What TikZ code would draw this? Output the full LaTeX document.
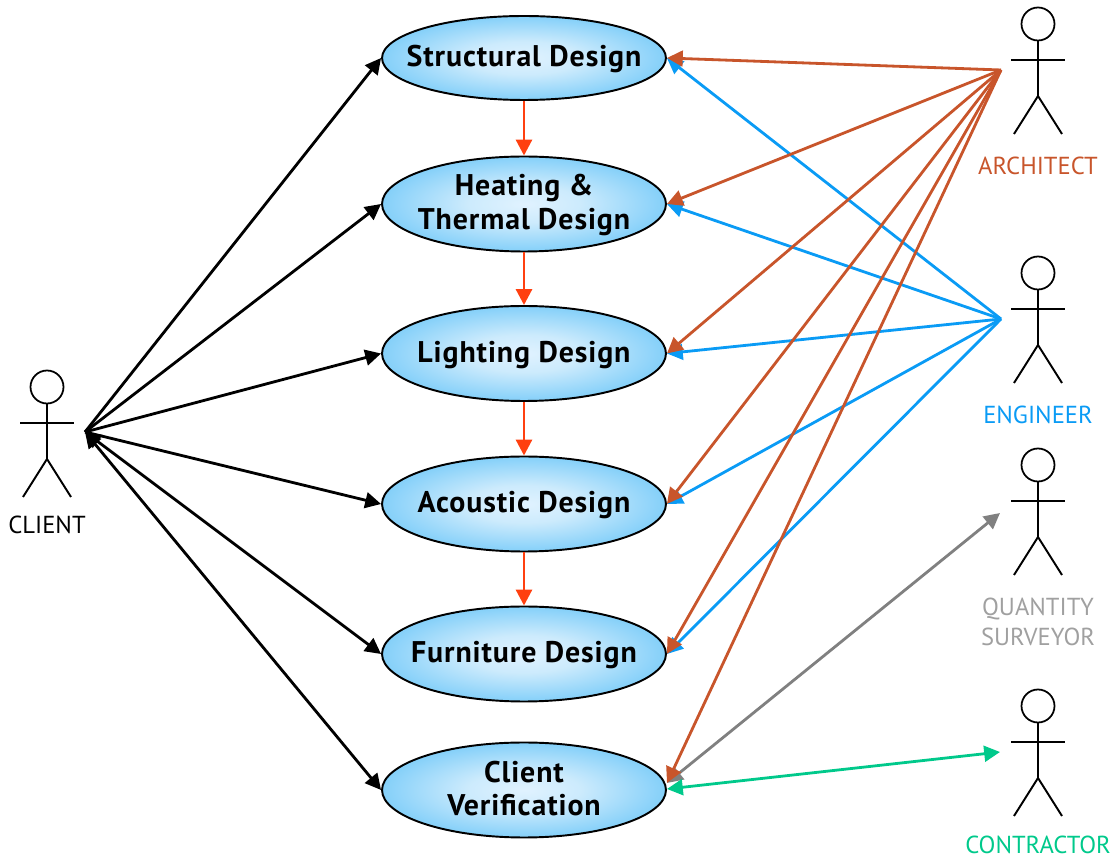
\documentclass[tikz,border=0pt]{standalone}
\usepackage{fontspec}
\setmainfont{PT Sans}
\newfontfamily\casefont[LetterSpace=3]{PT Sans}
\usetikzlibrary{arrows.meta,shapes.geometric}
\definecolor{archcol}{HTML}{C8552B}
\definecolor{engcol}{HTML}{0A9BF5}
\definecolor{flowcol}{HTML}{FF4010}
\definecolor{surveycol}{HTML}{808080}
\definecolor{contractcol}{HTML}{00C98B}
\pgfdeclareradialshading{usecaseshade}{\pgfpoint{0bp}{0bp}}{%
  rgb(0bp)=(0.88,0.95,1);
  rgb(10bp)=(0.80,0.92,0.99);
  rgb(27bp)=(0.48,0.80,0.975);
  rgb(40bp)=(0.40,0.77,0.97);
  rgb(47bp)=(0.44,0.78,0.97);
  rgb(50bp)=(0.62,0.85,0.98);
  rgb(100bp)=(0.62,0.85,0.98)}
\tikzset{
  usecase/.style={ellipse,draw=black,line width=1.1pt,shading=usecaseshade,minimum width=5.68cm,
    minimum height=1.9cm,inner xsep=-2cm,inner ysep=-1cm,align=center,text depth=2.2pt,
    font=\fontsize{17}{19.2}\selectfont\casefont\bfseries},
  actorlabel/.style={font=\fontsize{14}{17}\selectfont,align=center,inner sep=0pt},
  link/.style={line width=1.6pt,{Triangle[length=9pt,width=9pt]}-},
  backlink/.style={line width=1.6pt,{Triangle[length=9pt,width=9pt]}-{Triangle[length=9pt,width=9pt]}},
  flow/.style={line width=1.7pt,flowcol,-{Triangle[length=9pt,width=9pt]}},
  actor/.pic={
    \draw[line width=1pt](0,0)circle(16.5);
    \draw[line width=1.2pt](0,16)--(0,72);
    \draw[line width=0.9pt](-27,36)--(27,36);
    \draw[line width=1.1pt](-24,110)--(0,72)--(24,110);
  }
}
\begin{document}
\begin{tikzpicture}[x=0.02cm,y=-0.02cm]
\useasboundingbox(0,0)rectangle(1113,857);
% use cases
\node[usecase,minimum height=1.68cm](structural)at(524,58){Structural Design};
\node[usecase,text depth=2.4pt](heating)at(524,204){Heating \&\\Thermal Design};
\node[usecase](lighting)at(524,353.5){Lighting Design};
\node[usecase](acoustic)at(524,504){Acoustic Design};
\node[usecase](furniture)at(524,654){Furniture Design};
\node[usecase,text depth=2pt](verification)at(524,790){Client\\Verification};
% actors
\pic at(47,387){actor};
\pic at(1038,24){actor};
\pic at(1038,273){actor};
\pic at(1038,465){actor};
\pic at(1038,706){actor};
\node[actorlabel](clientlabel)at(47,525){CLIENT};
\node[actorlabel,text=archcol](architectlabel)at(1038,166){ARCHITECT};
\node[actorlabel,text=engcol](engineerlabel)at(1038,415){ENGINEER};
\node[actorlabel,text=surveycol!75](surveyorlabel)at(1038,621.5){QUANTITY\\SURVEYOR};
\node[actorlabel,text=contractcol](contractorlabel)at(1038,845){CONTRACTOR};
\coordinate(client)at(85,432);
\coordinate(architect)at(1001,70);
\coordinate(engineer)at(1001,319);
\coordinate(surveyor)at(1000,513);
\coordinate(contractor)at(1000,752);
\coordinate(verifyin)at(667,783);
\coordinate(verifyout)at(667,789);
% client
\foreach \usecase in {structural,heating,lighting,acoustic}
  \draw[link,black](\usecase.west)--(client);
\draw[backlink,black](furniture.west)--(client);
\draw[backlink,black](verification.west)--(client);
% surveyor under the architect line
\draw[backlink,surveycol](verifyin)--(surveyor);
% architect and engineer
\foreach \usecase in {structural,heating,lighting,acoustic,furniture}
  \draw[link,engcol](\usecase.east)--(engineer);
\foreach \usecase in {structural,heating,lighting,acoustic,furniture}
  \draw[link,archcol](\usecase.east)--(architect);
\draw[link,archcol](verifyin)--(architect);
% contractor
\draw[backlink,contractcol](verifyout)--(contractor);
% order of design
\draw[flow](structural)--(heating);
\draw[flow](heating)--(lighting);
\draw[flow](lighting)--(acoustic);
\draw[flow](acoustic)--(furniture);
\end{tikzpicture}
\end{document}
